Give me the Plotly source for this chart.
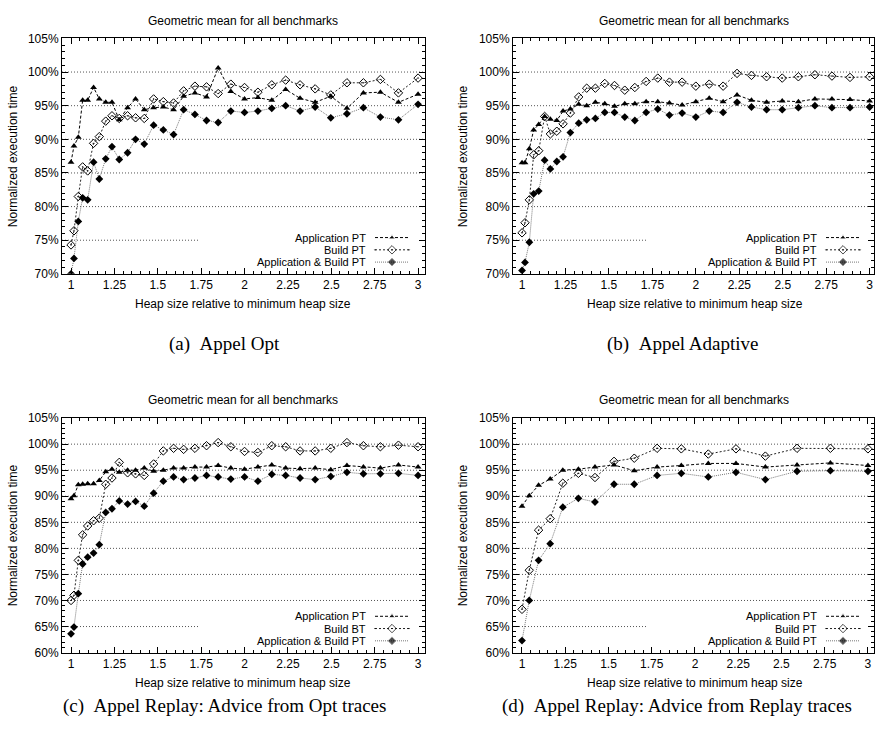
import plotly.graph_objects as go

# ---------------- data ----------------
X_FULL = [1.0, 1.017, 1.042, 1.067, 1.096, 1.13, 1.163, 1.2, 1.236, 1.278, 1.326,
          1.372, 1.422, 1.476, 1.532, 1.591, 1.649, 1.714, 1.781, 1.848, 1.921,
          2.0, 2.077, 2.157, 2.237, 2.32, 2.407, 2.497, 2.59, 2.685, 2.783, 2.887, 3.0]
X_HALF = [1.0, 1.042, 1.096, 1.163, 1.236, 1.326, 1.422, 1.532, 1.649, 1.781,
          1.921, 2.077, 2.237, 2.407, 2.59, 2.783, 3.0]

A_APP = [86.6, 89.0, 90.3, 95.8, 95.8, 97.7, 96.0, 95.5, 95.5, 92.9, 94.7, 96.0, 94.4,
         94.7, 94.8, 94.4, 96.4, 96.9, 96.3, 100.6, 97.1, 96.0, 96.2, 95.8, 97.4, 96.1,
         95.5, 96.4, 94.6, 96.9, 97.0, 95.5, 96.7]
A_BUILD = [74.3, 76.4, 81.5, 85.9, 85.3, 89.4, 90.4, 92.7, 93.5, 93.1, 93.5, 93.2, 93.1,
           96.0, 95.6, 95.4, 97.2, 97.9, 97.8, 96.8, 98.2, 97.7, 97.0, 98.1, 98.8, 98.1,
           97.5, 96.6, 98.4, 98.4, 98.9, 96.9, 99.1]
A_BOTH = [70.0, 72.3, 77.8, 81.3, 81.0, 86.6, 84.1, 87.1, 88.9, 87.0, 88.0, 90.0, 89.3,
          92.1, 91.4, 90.7, 94.4, 93.7, 92.8, 92.5, 94.2, 94.0, 94.2, 94.6, 95.0, 94.2,
          94.8, 93.2, 93.8, 94.7, 93.3, 92.9, 95.2]

B_APP = [86.5, 86.5, 88.6, 91.4, 92.2, 93.4, 93.0, 92.8, 94.2, 94.5, 95.2, 95.0, 95.5,
         95.3, 94.9, 95.3, 95.3, 95.6, 95.6, 95.4, 95.1, 95.6, 96.1, 95.6, 96.6, 95.8,
         95.5, 95.7, 95.6, 96.0, 96.0, 95.9, 95.7]
B_BUILD = [76.1, 77.6, 81.0, 87.7, 88.3, 93.4, 90.8, 91.2, 92.3, 93.9, 96.3, 97.6, 97.6,
           98.3, 98.0, 97.3, 97.7, 98.6, 99.1, 98.5, 98.5, 97.9, 98.2, 97.9, 99.8, 99.5,
           99.3, 99.1, 99.3, 99.6, 99.4, 99.2, 99.3]
B_BOTH = [70.5, 71.7, 74.7, 81.9, 82.3, 86.9, 85.6, 86.7, 87.4, 91.0, 92.4, 92.9, 93.1,
          94.0, 94.0, 93.3, 92.8, 94.0, 94.5, 93.6, 93.9, 93.3, 94.2, 94.0, 95.5, 94.8,
          94.4, 94.4, 94.7, 95.0, 94.7, 94.7, 94.8]

C_APP = [89.5, 90.1, 92.2, 92.3, 92.4, 92.4, 93.0, 94.7, 95.2, 94.6, 95.0, 95.0, 95.4,
         94.8, 95.0, 95.4, 95.4, 95.6, 95.6, 95.9, 95.4, 95.2, 95.6, 96.0, 95.4, 95.3,
         95.4, 95.1, 95.9, 95.6, 95.4, 96.0, 95.6]
C_BUILD = [70.0, 71.0, 77.7, 82.6, 84.3, 85.3, 85.8, 92.3, 93.5, 96.5, 94.5, 94.3, 94.0,
           96.2, 98.7, 99.2, 99.0, 99.2, 99.7, 100.3, 99.5, 98.6, 98.4, 99.7, 99.5, 98.7,
           98.7, 99.2, 100.3, 99.7, 99.5, 99.8, 99.5]
C_BOTH = [63.6, 64.9, 71.3, 77.0, 78.3, 79.1, 80.7, 86.9, 87.6, 89.1, 88.5, 89.0, 88.1,
          90.6, 92.9, 93.7, 93.2, 93.5, 94.0, 93.7, 93.3, 93.7, 92.9, 94.2, 94.0, 93.5,
          93.2, 93.8, 94.6, 94.3, 94.3, 94.4, 94.0]

D_APP = [88.1, 90.1, 92.1, 93.3, 95.0, 95.2, 95.6, 96.0, 94.9, 95.6, 95.9, 96.3, 96.3,
         95.6, 96.0, 96.4, 95.9]
D_BUILD = [68.3, 75.8, 83.5, 85.7, 92.5, 94.4, 93.6, 96.7, 97.3, 99.2, 99.1, 98.1, 99.1,
           97.7, 99.2, 99.2, 99.1]
D_BOTH = [62.3, 70.0, 77.7, 80.9, 87.9, 89.6, 88.9, 92.3, 92.3, 94.0, 94.4, 93.7, 94.6,
          93.2, 94.8, 94.9, 94.8]

X_TICKS = [1, 1.25, 1.5, 1.75, 2, 2.25, 2.5, 2.75, 3]
X_TICK_LABELS = ["1", "1.25", "1.5", "1.75", "2", "2.25", "2.5", "2.75", "3"]

LEGEND_STD = ["Application PT", "Build PT", "Application & Build PT"]
LEGEND_C = ["Application PT", "Build BT", "Application & Build PT"]

TITLE = "Geometric mean for all benchmarks"
XTITLE = "Heap size relative to minimum heap size"
YTITLE = "Normalized execution time"
CAPTIONS = ["(a)\u00a0\u00a0Appel Opt", "(b)\u00a0\u00a0Appel Adaptive",
            "(c)\u00a0\u00a0Appel Replay: Advice from Opt traces",
            "(d)\u00a0\u00a0Appel Replay: Advice from Replay traces"]

# ---------------- layout geometry (pixels) ----------------
W, H = 875, 742
FONT = "Liberation Sans"
SERIF = "Liberation Serif"

PANELS = [
    dict(ax="", box=(62, 425, 32, 272), xr=(0.948, 3.040), yr=(70, 105),
         xs=X_FULL, ys=(A_APP, A_BUILD, A_BOTH), leg=LEGEND_STD,
         legx=(367, 375, 409), legy=(235, 247.5, 260), cover=(198, 226),
         title=(243, 14), xt=(243, 303), yt=(13,), cap=(225, 343)),
    dict(ax="2", box=(513, 874, 32, 272), xr=(0.948, 3.025), yr=(70, 105),
         xs=X_FULL, ys=(B_APP, B_BUILD, B_BOTH), leg=LEGEND_STD,
         legx=(818, 826, 860), legy=(235, 247.5, 260), cover=(648, 226),
         title=(694, 14), xt=(695, 303), yt=(463,), cap=(682, 343)),
    dict(ax="3", box=(62, 425, 419, 658), xr=(0.948, 3.040), yr=(60, 105),
         xs=X_FULL, ys=(C_APP, C_BUILD, C_BOTH), leg=LEGEND_C,
         legx=(367, 375, 409), legy=(621, 633.5, 646), cover=(198, 613),
         title=(243, 401), xt=(243, 689), yt=(13,), cap=(224, 712)),
    dict(ax="4", box=(513, 874, 419, 658), xr=(0.948, 3.035), yr=(60, 105),
         xs=X_HALF, ys=(D_APP, D_BUILD, D_BOTH), leg=LEGEND_STD,
         legx=(818, 826, 860), legy=(621, 633.5, 646), cover=(648, 613),
         title=(694, 401), xt=(695, 689), yt=(463,), cap=(677, 712)),
]

STYLES = [
    dict(line=dict(color="black", width=1, dash="3px,2px"),
         marker=dict(symbol="triangle-up", size=6, color="black")),
    dict(line=dict(color="#222", width=1, dash="2px,2px"),
         marker=dict(symbol="diamond-open-dot", size=6.5, color="black",
                     line=dict(width=1, color="black"))),
    dict(line=dict(color="#777", width=1, dash="1px,1px"),
         marker=dict(symbol="diamond", size=6, color="black")),
]


def px2x(p, px):
    x0, x1, _, _ = p["box"]
    r0, r1 = p["xr"]
    return r0 + (px - x0) / (x1 - x0) * (r1 - r0)


def px2y(p, py):
    _, _, y0, y1 = p["box"]
    r0, r1 = p["yr"]
    return r1 - (py - y0) / (y1 - y0) * (r1 - r0)


fig = go.Figure()
annotations = []
shapes = []
layout_axes = {}

tick_font = dict(family=FONT, size=12, color="black")
LEG_SIZE = 11

for p in PANELS:
    ax = p["ax"]
    xref, yref = "x" + ax, "y" + ax
    x0, x1, y0, y1 = p["box"]
    # horizontal grid lines (the key box hides the part under the legend)
    cx, cy = p["cover"]
    ymin, ymax = p["yr"]
    for gy in range(ymin + 5, ymax, 5):
        gpy = y0 + (ymax - gy) / (ymax - ymin) * (y1 - y0)
        xe = (cx - x0) / (x1 - x0) if gpy > cy else 1
        shapes.append(dict(type="line", xref=xref + " domain", yref=yref,
                           x0=0, x1=xe, y0=gy, y1=gy, layer="below",
                           line=dict(color="#555", width=1, dash="1px,2px")))
    # data traces
    for ys, st in zip(p["ys"], STYLES):
        fig.add_trace(go.Scatter(x=p["xs"], y=ys, mode="lines+markers",
                                 line=st["line"], marker=st["marker"],
                                 xaxis=xref, yaxis=yref, showlegend=False,
                                 hoverinfo="skip"))
    # legend (gnuplot style: text then sample on the right)
    tr, s0, s1 = p["legx"]
    for lab, ly, st in zip(p["leg"], p["legy"], STYLES):
        annotations.append(dict(text=lab, x=tr / W, y=1 - ly / H, xref="paper",
                                yref="paper", xanchor="right", yanchor="middle",
                                showarrow=False, borderpad=0,
                                font=dict(family=FONT, size=LEG_SIZE,
                                          color="black")))
        fig.add_trace(go.Scatter(
            x=[px2x(p, s0), px2x(p, (s0 + s1) / 2), px2x(p, s1)],
            y=[px2y(p, ly)] * 3, mode="lines+markers", line=st["line"],
            marker=dict(st["marker"], size=[0, st["marker"]["size"], 0]),
            xaxis=xref, yaxis=yref, showlegend=False, hoverinfo="skip"))
    # axes
    xkey = "xaxis" + ax
    ykey = "yaxis" + ax
    layout_axes[xkey] = dict(
        domain=[x0 / W, x1 / W], range=list(p["xr"]), anchor=yref,
        tickmode="array", tickvals=X_TICKS, ticktext=X_TICK_LABELS,
        ticks="inside", ticklen=6, tickcolor="black", tickwidth=1,
        showline=True, linecolor="black", linewidth=1, mirror="ticks",
        showgrid=False, zeroline=False, tickfont=tick_font,
        minor=dict(tickmode="linear", tick0=1, dtick=0.05, ticks="inside",
                   ticklen=3, tickcolor="black", showgrid=False),
    )
    layout_axes[ykey] = dict(
        domain=[1 - y1 / H, 1 - y0 / H], range=list(p["yr"]), anchor=xref,
        tick0=0, dtick=5, ticksuffix="%", ticks="inside", ticklen=6,
        tickcolor="black", tickwidth=1, showline=True, linecolor="black",
        linewidth=1, mirror="ticks", showgrid=False, zeroline=False,
        tickfont=tick_font,
        minor=dict(dtick=1, ticks="inside", ticklen=3, tickcolor="black",
                   showgrid=False),
    )
    # texts
    tx, ty = p["title"]
    annotations.append(dict(text=TITLE, x=tx / W, y=1 - ty / H, xref="paper",
                            yref="paper", xanchor="center", yanchor="middle",
                            showarrow=False, font=dict(family=FONT, size=12,
                                                       color="black")))
    tx, ty = p["xt"]
    annotations.append(dict(text=XTITLE, x=tx / W, y=1 - ty / H, xref="paper",
                            yref="paper", xanchor="center", yanchor="middle",
                            showarrow=False, font=dict(family=FONT, size=12,
                                                       color="black")))
    annotations.append(dict(text=YTITLE, x=p["yt"][0] / W,
                            y=1 - (y0 + y1) / 2 / H, xref="paper", yref="paper",
                            xanchor="center", yanchor="middle", textangle=-90,
                            showarrow=False, font=dict(family=FONT, size=12,
                                                       color="black")))

for p, cap in zip(PANELS, CAPTIONS):
    cx, cy = p["cap"]
    annotations.append(dict(text=cap, x=cx / W, y=1 - cy / H, xref="paper",
                            yref="paper", xanchor="center", yanchor="middle",
                            showarrow=False, font=dict(family=SERIF, size=19,
                                                       color="black")))

fig.update_layout(
    width=W, height=H, margin=dict(l=0, r=0, t=0, b=0),
    paper_bgcolor="white", plot_bgcolor="white",
    showlegend=False, annotations=annotations, shapes=shapes,
    font=dict(family=FONT, size=12, color="black"),
    **layout_axes,
)

fig.write_html("out.html")
